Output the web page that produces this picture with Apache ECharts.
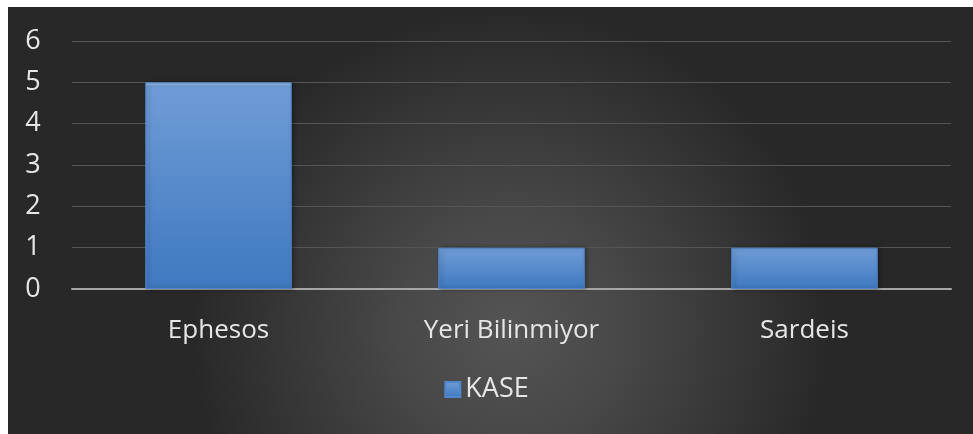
<!DOCTYPE html>
<html>
<head>
<meta charset="utf-8">
<script src="https://cdn.jsdelivr.net/npm/echarts@6/dist/echarts.min.js"></script>
<style>
  html, body { margin: 0; padding: 0; background: #fff; }
</style>
</head>
<body>
<div id="chart" style="width: 973px; height: 434px"></div>
<script>
// data
const categories = ["Ephesos", "Yeri Bilinmiyor", "Sardeis"];
const kaseValues = [5, 1, 1];
const seriesName = "KASE";

const myChart = echarts.init(document.getElementById("chart"));

const barColor = new echarts.graphic.LinearGradient(0, 0, 0, 1, [
  { offset: 0, color: "#9cc3ee" },
  { offset: 0.02, color: "#6f9cd6" },
  { offset: 1, color: "#3f79c0" },
]);

const option = {
  backgroundColor: "#fff",
  animation: false,
  graphic: [
    {
      type: "rect",
      z: -10,
      silent: true,
      shape: { x: 8, y: 7, width: 965, height: 427 },
      style: {
        fill: new echarts.graphic.RadialGradient(0.52, 0.75, 0.75, [
          { offset: 0, color: "#545454" },
          { offset: 0.35, color: "#484848" },
          { offset: 1, color: "#282828" },
        ]),
      },
    },
  ],
  grid: { left: 72, right: 22, top: 41, bottom: 145 },
  legend: {
    bottom: 26,
    left: "center",
    itemWidth: 15,
    itemHeight: 15,
    itemGap: 8,
    icon: "rect",
    textStyle: { color: "#e6e6e6", fontSize: 27, fontFamily: "Open Sans" },
    data: [seriesName],
  },
  xAxis: {
    type: "category",
    data: categories,
    axisLine: { lineStyle: { color: "#a6a6a6", width: 2 } },
    axisTick: { show: false },
    axisLabel: {
      color: "#e6e6e6",
      fontSize: 26,
      fontFamily: "Open Sans",
      margin: 29,
    },
  },
  yAxis: {
    type: "value",
    min: 0,
    max: 6,
    interval: 1,
    axisLine: { show: false },
    axisTick: { show: false },
    splitLine: { lineStyle: { color: "#555555", width: 1 } },
    axisLabel: {
      color: "#e6e6e6",
      fontSize: 27,
      fontFamily: "Open Sans",
      margin: 39,
      align: "center",
    },
  },
  series: [
    {
      name: seriesName,
      type: "bar",
      data: kaseValues,
      barWidth: "50%",
      itemStyle: {
        color: barColor,
        borderColor: "#4f86cc",
        borderWidth: 1,
        shadowColor: "rgba(0,0,0,0.35)",
        shadowBlur: 4,
        shadowOffsetX: 2,
      },
    },
  ],
};

myChart.setOption(option);
</script>
</body>
</html>
